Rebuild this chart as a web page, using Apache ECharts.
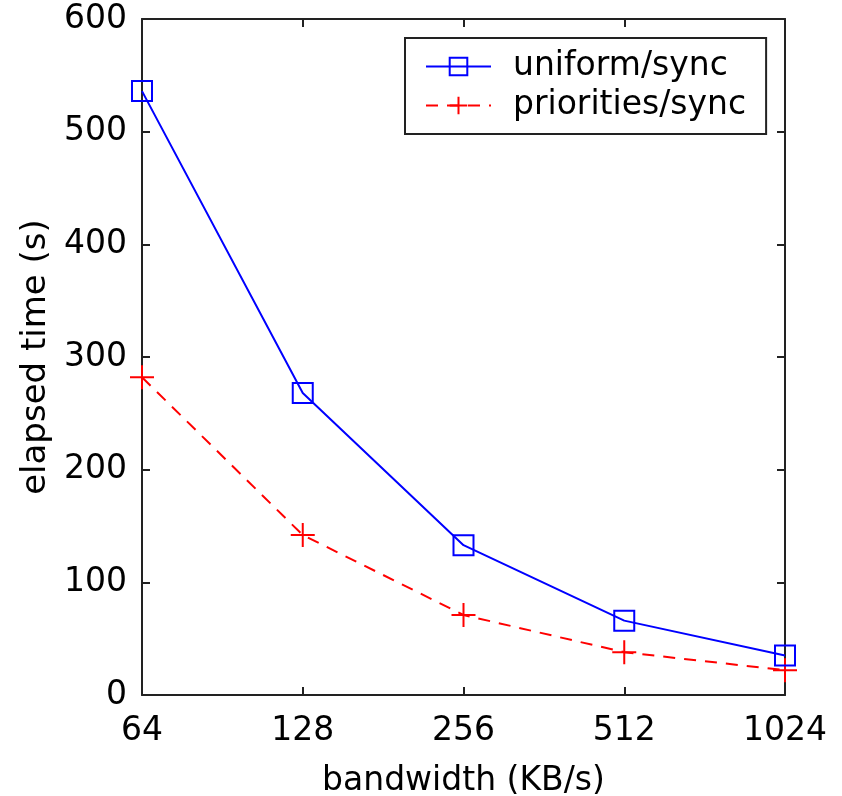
<!DOCTYPE html>
<html>
<head>
    <meta charset="utf-8">
    <title>elapsed time vs bandwidth</title>
    <script src="https://cdn.jsdelivr.net/npm/echarts@6/dist/echarts.min.js"></script>
    <style>
        html, body { margin: 0; padding: 0; background: #fff; }
        #chart1 { width: 842px; height: 796px; }
    </style>
</head>
<body>
<div id="chart1"></div>
<script type="text/javascript">
    // data
    var bandwidth = ['64', '128', '256', '512', '1024'];
    var uniformSync = [536, 268, 133, 66, 35];
    var prioritiesSync = [282, 142, 71, 38, 22];
    var yTicks = [0, 100, 200, 300, 400, 500, 600];

    var font = 'DejaVu Sans, sans-serif';
    var myChart1 = echarts.init(document.getElementById('chart1'));

    var lineCol = '#222';
    function tick() {
        return { show: true, inside: true, length: 8, lineStyle: { color: lineCol, width: 2 } };
    }
    function axLine() {
        return { show: true, onZero: false, lineStyle: { color: lineCol, width: 2 } };
    }

    myChart1.setOption({
        animation: false,
        backgroundColor: '#fff',
        grid: { left: 142, top: 19, right: 57, bottom: 101, outerBoundsMode: 'none', containLabel: false },
        legend: {
            left: 405, top: 38,
            orient: 'vertical',
            padding: [12, 20, 12, 20],
            itemGap: 6,
            itemWidth: 65, itemHeight: 22,
            borderColor: lineCol, borderWidth: 2,
            backgroundColor: '#fff',
            textStyle: { fontFamily: font, fontSize: 33, color: '#000', padding: [0, 0, 0, 17] },
            data: ['uniform/sync', 'priorities/sync']
        },
        xAxis: [{
            type: 'category',
            data: bandwidth,
            boundaryGap: false,
            axisLine: axLine(),
            axisTick: tick(),
            axisLabel: { fontFamily: font, fontSize: 33, color: '#000', margin: 20 },
            name: 'bandwidth (KB/s)',
            nameLocation: 'middle',
            nameGap: 70,
            nameTextStyle: { fontFamily: font, fontSize: 33, color: '#000' }
        }, {
            type: 'category',
            data: bandwidth,
            boundaryGap: false,
            position: 'top',
            axisLine: axLine(),
            axisTick: tick(),
            axisLabel: { show: false }
        }],
        yAxis: [{
            type: 'value',
            min: yTicks[0], max: yTicks[yTicks.length - 1], interval: 100,
            axisLine: axLine(),
            axisTick: tick(),
            splitLine: { show: false },
            axisLabel: { fontFamily: font, fontSize: 33, color: '#000', margin: 15 },
            name: 'elapsed time (s)',
            nameLocation: 'middle',
            nameRotate: 90,
            nameGap: 88,
            nameTextStyle: { fontFamily: font, fontSize: 34, color: '#000' }
        }, {
            type: 'value',
            min: yTicks[0], max: yTicks[yTicks.length - 1], interval: 100,
            position: 'right',
            axisLine: axLine(),
            axisTick: tick(),
            splitLine: { show: false },
            axisLabel: { show: false }
        }],
        series: [{
            name: 'uniform/sync',
            type: 'line',
            data: uniformSync,
            symbol: 'rect',
            symbolSize: 20,
            lineStyle: { color: '#0000ff', width: 2 },
            itemStyle: { color: 'rgba(0,0,0,0)', borderColor: '#0000ff', borderWidth: 2 },
            z: 3
        }, {
            name: 'priorities/sync',
            type: 'line',
            data: prioritiesSync,
            symbol: 'path://M5,0L5,10M0,5L10,5',
            symbolSize: 24,
            lineStyle: { color: '#ff0000', width: 2, type: [12, 9] },
            itemStyle: { color: 'rgba(0,0,0,0)', borderColor: '#ff0000', borderWidth: 2 },
            z: 2
        }]
    });
</script>
</body>
</html>
